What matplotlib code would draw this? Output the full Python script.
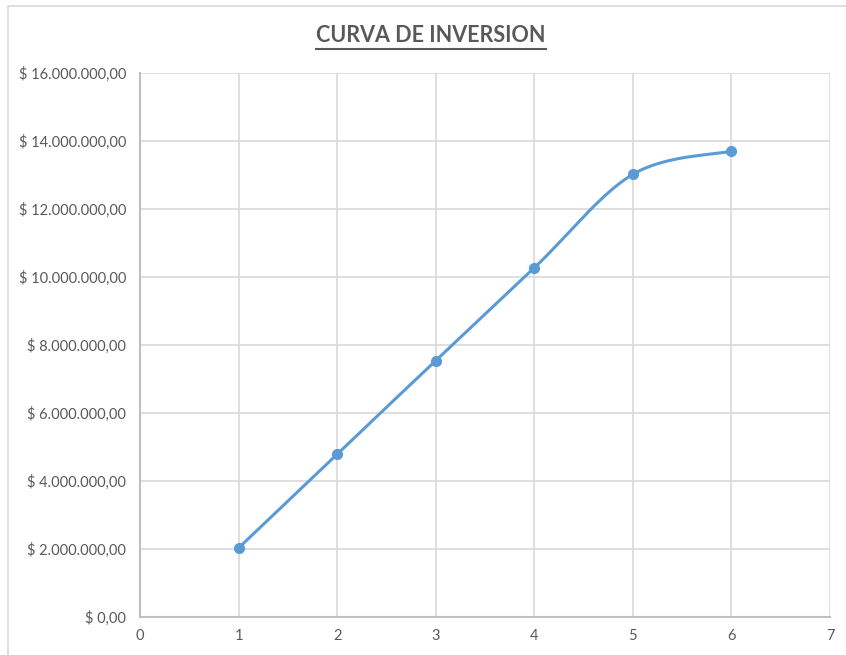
import matplotlib.pyplot as plt
import numpy as np
from matplotlib.lines import Line2D

# Investment curve values
periods = [1, 2, 3, 4, 5, 6]
investment = [2030000, 4790000, 7540000, 10270000, 13020000, 13700000]
y_ticks = [0, 2000000, 4000000, 6000000, 8000000, 10000000, 12000000, 14000000, 16000000]
x_ticks = [0, 1, 2, 3, 4, 5, 6, 7]

plt.rcParams['font.family'] = ['Lato', 'DejaVu Sans']
grey = "#595959"
blue = "#5B9BD5"


def money(v):
    s = f"{v:,.2f}"  # 16,000,000.00
    s = s.replace(",", "X").replace(".", ",").replace("X", ".")
    return "$ " + s


def smooth(xs, ys, n=40):
    # Excel-like smoothed line: cubic Bezier with Catmull-Rom control points
    xs = np.asarray(xs, float)
    ys = np.asarray(ys, float)
    px, py = [], []
    for i in range(len(xs) - 1):
        x0, y0 = (xs[i - 1], ys[i - 1]) if i > 0 else (xs[i], ys[i])
        x3, y3 = (xs[i + 2], ys[i + 2]) if i + 2 < len(xs) else (xs[i + 1], ys[i + 1])
        x1, y1 = xs[i], ys[i]
        x2, y2 = xs[i + 1], ys[i + 1]
        c1x, c1y = x1 + (x2 - x0) / 6, y1 + (y2 - y0) / 6
        c2x, c2y = x2 - (x3 - x1) / 6, y2 - (y3 - y1) / 6
        t = np.linspace(0, 1, n)
        bx = (1 - t) ** 3 * x1 + 3 * (1 - t) ** 2 * t * c1x + 3 * (1 - t) * t ** 2 * c2x + t ** 3 * x2
        by = (1 - t) ** 3 * y1 + 3 * (1 - t) ** 2 * t * c1y + 3 * (1 - t) * t ** 2 * c2y + t ** 3 * y2
        px.extend(bx)
        py.extend(by)
    return np.array(px), np.array(py)


fig = plt.figure(figsize=(8.46, 6.55), dpi=100)
W, H = 846, 655
ax = fig.add_axes([140 / W, (H - 617) / H, (830 - 140) / W, (617 - 73) / H])

sx, sy = smooth(periods, investment)
ax.plot(sx, sy, color=blue, linewidth=2.2, zorder=3, solid_capstyle="round")
ax.plot(periods, investment, "o", color=blue, markersize=7, zorder=4)

ax.set_xlim(0, 7)
ax.set_ylim(0, 16000000)
ax.set_xticks(x_ticks)
ax.set_yticks(y_ticks)
ax.set_yticklabels([money(v) for v in y_ticks])
ax.grid(True, color="#D9D9D9", linewidth=1.2)
ax.set_axisbelow(True)
ax.tick_params(length=0, colors=grey, labelsize=10.5, pad=10)
ax.tick_params(axis="x", pad=9)
for side in ["top", "right"]:
    ax.spines[side].set_visible(False)
for side in ["left", "bottom"]:
    ax.spines[side].set_color("#BFBFBF")
    ax.spines[side].set_linewidth(1.5)

# outer chart border (top and left visible)
fig.add_artist(plt.Rectangle((8 / W, -0.05), 1.2, (H - 6) / H + 0.05, transform=fig.transFigure,
                             fill=False, edgecolor="#D9D9D9", linewidth=1.2))

title = fig.text(431 / W, 1 - 36 / H, "CURVA DE INVERSION", ha="center", va="center",
                 fontsize=15.5, fontweight="bold", color=grey)
fig.canvas.draw()
bb = title.get_window_extent()
uy = bb.y0 - 2
fig.add_artist(Line2D([bb.x0 / W, bb.x1 / W], [uy / H, uy / H],
                      transform=fig.transFigure, color=grey, linewidth=1.5))

fig.savefig("out.png", dpi=100)
